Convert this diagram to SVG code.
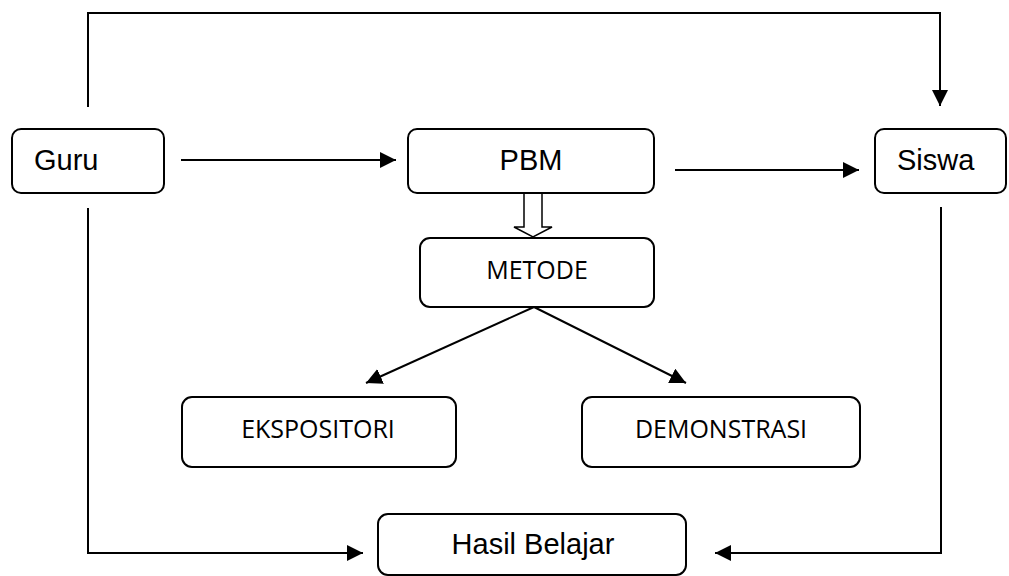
<svg xmlns="http://www.w3.org/2000/svg" width="1009" height="576" viewBox="0 0 1009 576">
<style>
.box{fill:#fff;stroke:#000;stroke-width:2}
.ln{fill:none;stroke:#000;stroke-width:2}
.ar{font-family:"Liberation Sans",Arial,sans-serif;font-size:29px;fill:#000}
.cal{font-family:"Open Sans","Liberation Sans",sans-serif;font-size:25px;fill:#000}
</style>
<defs>
<marker id="ah" markerUnits="userSpaceOnUse" markerWidth="16" markerHeight="16" refX="16" refY="8" orient="auto">
<path d="M0,0 L16,8 L0,16 z" fill="#000"/>
</marker>
</defs>
<rect width="1009" height="576" fill="#fff"/>
<g id="connectors">
<polyline class="ln" points="88,107 88,13 940,13 940,106" marker-end="url(#ah)"/>
<line class="ln" x1="181" y1="160" x2="396" y2="160" marker-end="url(#ah)"/>
<line class="ln" x1="675" y1="170" x2="859" y2="170" marker-end="url(#ah)"/>
<path d="M524,193 L524,227 L514,227 L533,237 L552,227 L542,227 L542,193" fill="#fff" stroke="#000" stroke-width="1.5"/>
<line class="ln" x1="534" y1="307" x2="366" y2="383" marker-end="url(#ah)"/>
<line class="ln" x1="534" y1="307" x2="686" y2="383" marker-end="url(#ah)"/>
<polyline class="ln" points="88,208 88,553 363,553" marker-end="url(#ah)"/>
<polyline class="ln" points="941,207 941,553 715,553" marker-end="url(#ah)"/>
</g>
<g id="guru">
<rect class="box" x="12" y="129" width="152" height="64" rx="9"/>
<text class="ar" x="34" y="170">Guru</text>
</g>
<g id="pbm">
<rect class="box" x="408" y="129" width="246" height="64" rx="9"/>
<text class="ar" x="531" y="170" text-anchor="middle">PBM</text>
</g>
<g id="siswa">
<rect class="box" x="875" y="129" width="131" height="64" rx="9"/>
<text class="ar" x="897" y="170">Siswa</text>
</g>
<g id="metode">
<rect class="box" x="420" y="238" width="234" height="69" rx="10"/>
<text class="cal" x="537" y="279" text-anchor="middle">METODE</text>
</g>
<g id="ekspositori">
<rect class="box" x="182" y="397" width="274" height="70" rx="10"/>
<text class="cal" x="318" y="438" text-anchor="middle">EKSPOSITORI</text>
</g>
<g id="demonstrasi">
<rect class="box" x="582" y="397" width="278" height="70" rx="10"/>
<text class="cal" x="721" y="438" text-anchor="middle">DEMONSTRASI</text>
</g>
<g id="hasil">
<rect class="box" x="378" y="514" width="308" height="61" rx="10"/>
<text class="ar" x="533" y="554" text-anchor="middle">Hasil Belajar</text>
</g>
</svg>
